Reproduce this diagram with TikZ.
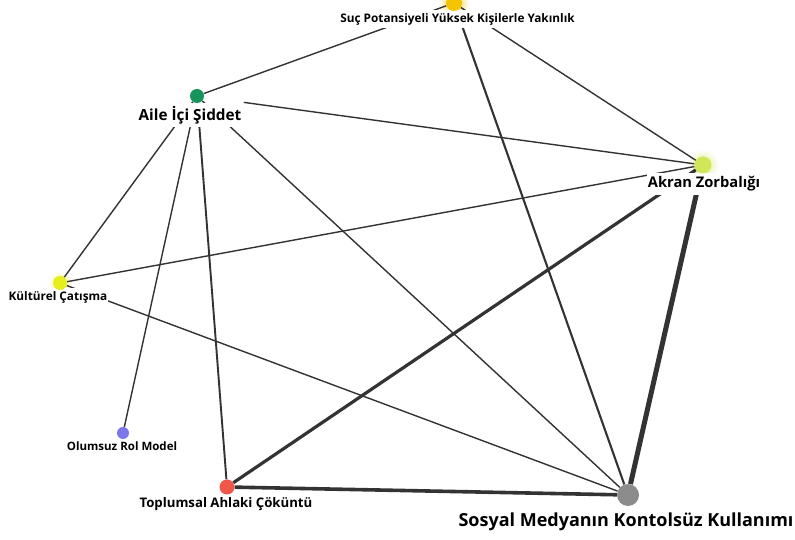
\documentclass[tikz,border=0pt]{standalone}
\usepackage{fontspec}
\setmainfont{Open Sans}
\definecolor{edgecol}{HTML}{333333}
\definecolor{sucY}{HTML}{F5C400}
\definecolor{aileG}{HTML}{16955A}
\definecolor{akranY}{HTML}{D2E65A}
\definecolor{kultY}{HTML}{E6EE1E}
\definecolor{olumP}{HTML}{7C78EC}
\definecolor{toplR}{HTML}{EF5848}
\definecolor{sosyalG}{HTML}{8C8C8C}
\begin{document}
\begin{tikzpicture}[x=1pt,y=1pt,
  dot/.style={circle,inner sep=0pt,minimum size=#1},
  lbl/.style={fill=white,inner xsep=1pt,inner ysep=3.5pt,text=black},
  link/.style={draw=edgecol,line width=#1},
  link/.default=1.4pt]
\useasboundingbox (0,0) rectangle (795,540);
\fill[white] (0,0) rectangle (795,540);

% node positions
\coordinate (psuc) at (454,537);
\coordinate (paile) at (197,444);
\coordinate (pakran) at (703,375);
\coordinate (pkult) at (60,257);
\coordinate (polum) at (123,107);
\coordinate (ptopl) at (227,53);
\coordinate (psosyal) at (628,45);

% soft halos behind the brighter dots
\shade[inner color=sucY!80, outer color=white] (psuc) circle (15);
\shade[inner color=akranY!70, outer color=white] (pakran) circle (16);
\shade[inner color=kultY!60, outer color=white] (pkult) circle (12);

% dots
\node[dot=16pt] (suc) at (psuc) {};
\node[dot=14pt] (aile) at (paile) {};
\node[dot=17pt] (akran) at (pakran) {};
\node[dot=14pt] (kult) at (pkult) {};
\node[dot=12pt] (olum) at (polum) {};
\node[dot=15pt] (topl) at (ptopl) {};
\node[dot=22pt] (sosyal) at (psosyal) {};

% connectors
\draw[link] (aile) -- (suc);
\draw[link=2.1pt] (suc) -- (sosyal);
\draw[link] (suc) -- (akran);
\draw[link, shorten <=40pt] (aile) -- (akran);
\draw[link] (aile) -- (kult);
\draw[link] (aile) -- (olum);
\draw[link=1.9pt] (aile) -- (topl);
\draw[link] (aile) -- (sosyal);
\draw[link] (akran) -- (kult);
\draw[link=3.2pt] (akran) -- (topl);
\draw[link=5pt] (akran) -- (sosyal);
\draw[link] (kult) -- (sosyal);
\draw[link=3.6pt] (topl) -- (sosyal);

% labels
\node[lbl, font=\bfseries\fontsize{11.8}{13}\selectfont] (sucL) at (457.5,521) {Suç Potansiyeli Yüksek Kişilerle Yakınlık};
\node[lbl, font=\bfseries\fontsize{15.3}{17}\selectfont] (aileL) at (190,425) {Aile İçi Şiddet};
\node[lbl, font=\bfseries\fontsize{14.7}{17}\selectfont] (akranL) at (704,356) {Akran Zorbalığı};
\node[lbl, font=\bfseries\fontsize{11.8}{13}\selectfont] (kultL) at (58,243) {Kültürel Çatışma};
\node[lbl, font=\bfseries\fontsize{11.5}{13}\selectfont] (olumL) at (122,94) {Olumsuz Rol Model};
\node[lbl, font=\bfseries\fontsize{13.2}{15}\selectfont] (toplL) at (226,36) {Toplumsal Ahlaki Çöküntü};
\node[lbl, font=\bfseries\fontsize{18}{21}\selectfont] (sosyalL) at (626,18) {Sosyal Medyanın Kontolsüz Kullanımı};

% dot fills on top
\fill[sucY] (psuc) circle (8);
\fill[aileG] (paile) circle (7);
\fill[akranY] (pakran) circle (8.5);
\fill[kultY] (pkult) circle (7);
\fill[olumP] (polum) circle (6);
\fill[toplR] (ptopl) circle (7.5);
\fill[sosyalG] (psosyal) circle (11);
\end{tikzpicture}
\end{document}
